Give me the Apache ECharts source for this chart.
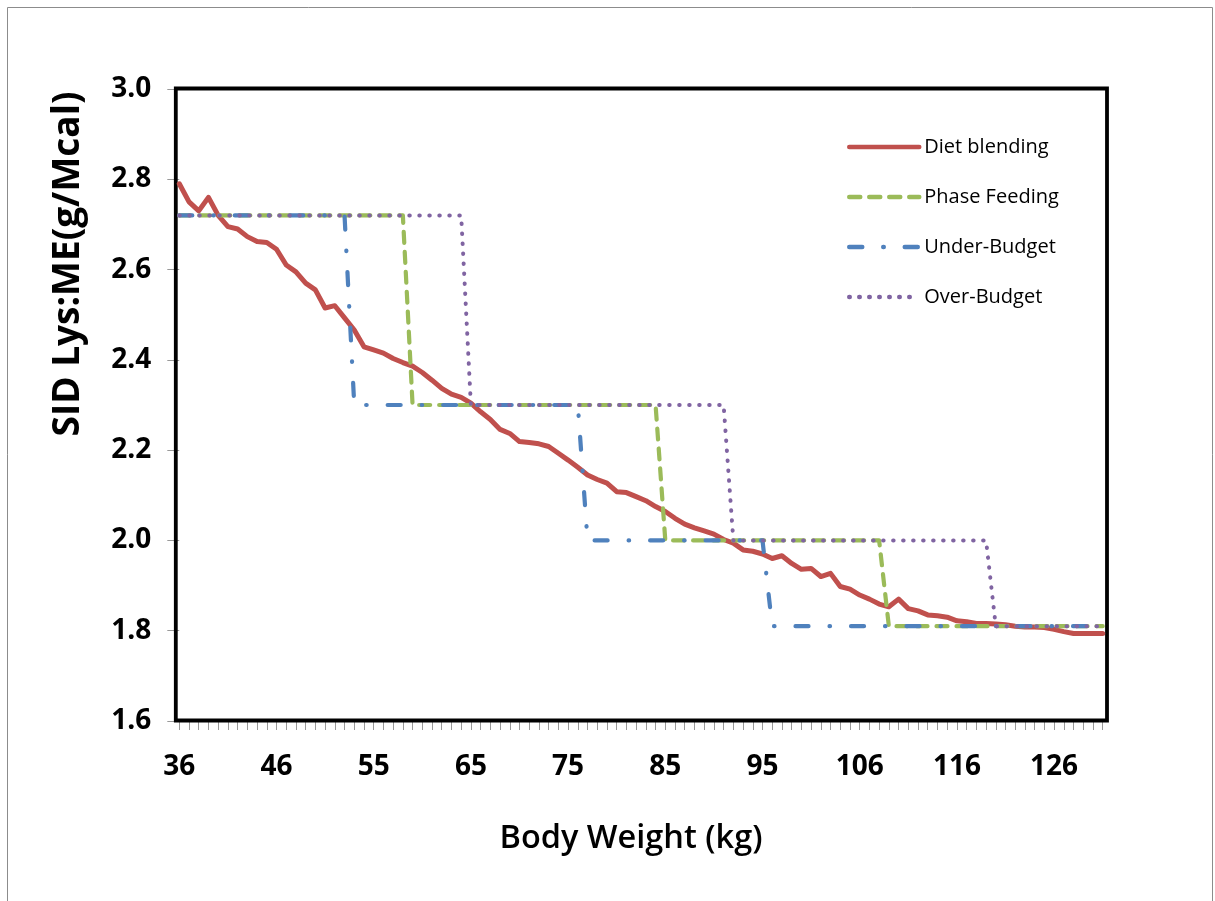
<!DOCTYPE html>
<html>
<head>
<meta charset="utf-8">
<script src="https://cdn.jsdelivr.net/npm/echarts@6/dist/echarts.min.js"></script>
<style>
html,body{margin:0;padding:0;background:#fff;}
#c{width:1215px;height:901px;}
</style>
</head>
<body>
<div id="c"></div>
<script>
// Body weight (kg) at each category; labels shown every 10th, rounded
const weights = [
  36.0,37.0,38.0,39.0,40.0,41.0,42.0,43.0,44.0,45.0,
  46.0,46.9,47.8,48.7,49.6,50.5,51.4,52.3,53.2,54.1,
  55.0,56.0,57.0,58.0,59.0,60.0,61.0,62.0,63.0,64.0,
  65.0,66.0,67.0,68.0,69.0,70.0,71.0,72.0,73.0,74.0,
  75.0,76.0,77.0,78.0,79.0,80.0,81.0,82.0,83.0,84.0,
  85.0,86.0,87.0,88.0,89.0,90.0,91.0,92.0,93.0,94.0,
  95.0,96.1,97.2,98.3,99.4,100.5,101.6,102.7,103.8,104.9,
  106.0,107.0,108.0,109.0,110.0,111.0,112.0,113.0,114.0,115.0,
  116.0,117.0,118.0,119.0,120.0,121.0,122.0,123.0,124.0,125.0,
  126.0,127.0,128.0,129.0,130.0,131.0
];

const dietBlending = [
  2.79,2.75,2.73,2.76,2.72,2.695,2.69,2.673,2.662,2.66,
  2.645,2.61,2.595,2.57,2.555,2.515,2.52,2.493,2.466,2.429,
  2.422,2.415,2.403,2.394,2.386,2.372,2.355,2.337,2.324,2.317,
  2.304,2.285,2.268,2.246,2.237,2.219,2.217,2.214,2.208,2.193,
  2.178,2.162,2.145,2.135,2.127,2.108,2.106,2.097,2.088,2.075,
  2.064,2.049,2.036,2.028,2.021,2.014,2.002,1.994,1.979,1.976,
  1.970,1.960,1.966,1.949,1.936,1.938,1.920,1.927,1.898,1.892,
  1.879,1.870,1.859,1.853,1.870,1.849,1.844,1.835,1.833,1.830,
  1.822,1.820,1.816,1.816,1.815,1.813,1.810,1.808,1.808,1.807,
  1.803,1.798,1.794,1.794,1.794,1.794
];

const phaseFeeding = [
  2.72,2.72,2.72,2.72,2.72,2.72,2.72,2.72,2.72,2.72,
  2.72,2.72,2.72,2.72,2.72,2.72,2.72,2.72,2.72,2.72,
  2.72,2.72,2.72,2.72,2.30,2.30,2.30,2.30,2.30,2.30,
  2.30,2.30,2.30,2.30,2.30,2.30,2.30,2.30,2.30,2.30,
  2.30,2.30,2.30,2.30,2.30,2.30,2.30,2.30,2.30,2.30,
  2.00,2.00,2.00,2.00,2.00,2.00,2.00,2.00,2.00,2.00,
  2.00,2.00,2.00,2.00,2.00,2.00,2.00,2.00,2.00,2.00,
  2.00,2.00,2.00,1.81,1.81,1.81,1.81,1.81,1.81,1.81,
  1.81,1.81,1.81,1.81,1.81,1.81,1.81,1.81,1.81,1.81,
  1.81,1.81,1.81,1.81,1.81,1.81
];

const underBudget = [
  2.72,2.72,2.72,2.72,2.72,2.72,2.72,2.72,2.72,2.72,
  2.72,2.72,2.72,2.72,2.72,2.72,2.72,2.72,2.30,2.30,
  2.30,2.30,2.30,2.30,2.30,2.30,2.30,2.30,2.30,2.30,
  2.30,2.30,2.30,2.30,2.30,2.30,2.30,2.30,2.30,2.30,
  2.30,2.30,2.00,2.00,2.00,2.00,2.00,2.00,2.00,2.00,
  2.00,2.00,2.00,2.00,2.00,2.00,2.00,2.00,2.00,2.00,
  2.00,1.81,1.81,1.81,1.81,1.81,1.81,1.81,1.81,1.81,
  1.81,1.81,1.81,1.81,1.81,1.81,1.81,1.81,1.81,1.81,
  1.81,1.81,1.81,1.81,1.81,1.81,1.81,1.81,1.81,1.81,
  1.81,1.81,1.81,1.81,1.81,1.81
];

const overBudget = [
  2.72,2.72,2.72,2.72,2.72,2.72,2.72,2.72,2.72,2.72,
  2.72,2.72,2.72,2.72,2.72,2.72,2.72,2.72,2.72,2.72,
  2.72,2.72,2.72,2.72,2.72,2.72,2.72,2.72,2.72,2.72,
  2.30,2.30,2.30,2.30,2.30,2.30,2.30,2.30,2.30,2.30,
  2.30,2.30,2.30,2.30,2.30,2.30,2.30,2.30,2.30,2.30,
  2.30,2.30,2.30,2.30,2.30,2.30,2.30,2.00,2.00,2.00,
  2.00,2.00,2.00,2.00,2.00,2.00,2.00,2.00,2.00,2.00,
  2.00,2.00,2.00,2.00,2.00,2.00,2.00,2.00,2.00,2.00,
  2.00,2.00,2.00,2.00,1.81,1.81,1.81,1.81,1.81,1.81,
  1.81,1.81,1.81,1.81,1.81,1.81
];

const seriesNames = ['Diet blending', 'Phase Feeding', 'Under-Budget', 'Over-Budget'];
const yTitle = 'SID Lys:ME(g/Mcal)';
const xTitle = 'Body Weight (kg)';

const FONT = '"Open Sans", "Liberation Sans", sans-serif';
const chart = echarts.init(document.getElementById('c'), null, {renderer: 'canvas'});

function line(name, data, color, width, type, z) {
  return {
    name: name, type: 'line', data: data,
    symbol: 'none', showSymbol: false, smooth: false, z: z,
    lineStyle: {color: color, width: width, type: type, cap: 'round', join: 'round'},
    itemStyle: {color: color},
    emphasis: {disabled: true},
    animation: false
  };
}

chart.setOption({
  backgroundColor: '#ffffff',
  animation: false,
  grid: {left: 179.3, right: 112.3, top: 89, bottom: 180, containLabel: false},
  legend: {
    data: seriesNames,
    orient: 'vertical',
    left: 842, top: 132,
    itemWidth: 70, itemHeight: 14, itemGap: 30,
    itemStyle: {opacity: 0},
    lineStyle: {width: 4.5},
    textStyle: {fontFamily: FONT, fontSize: 20, color: '#000', lineHeight: 20},
    selectedMode: false
  },
  xAxis: {
    type: 'category',
    data: weights.map(String),
    boundaryGap: false,
    axisLine: {show: false},
    axisTick: {show: true, interval: 0, length: 9, lineStyle: {color: '#999', width: 1}},
    axisLabel: {
      interval: 9, margin: 32,
      formatter: v => String(Math.round(parseFloat(v))),
      fontFamily: FONT, fontSize: 28, fontWeight: 'bold', color: '#000'
    },
    splitLine: {show: false}
  },
  yAxis: {
    type: 'value', min: 1.6, max: 3.0, interval: 0.2,
    axisLine: {show: false},
    axisTick: {show: true, length: 12, lineStyle: {color: '#999', width: 1}},
    axisLabel: {
      margin: 28,
      formatter: v => v.toFixed(1),
      fontFamily: FONT, fontSize: 28, fontWeight: 'bold', color: '#000'
    },
    splitLine: {show: false}
  },
  graphic: [
    {type: 'rect', shape: {x: 7.5, y: 7.5, width: 1205, height: 900},
     style: {fill: 'none', stroke: '#8c8c8c', lineWidth: 1}, z: -10, silent: true},
    {type: 'rect', shape: {x: 175.8, y: 88.5, width: 931.2, height: 632},
     style: {fill: 'none', stroke: '#000', lineWidth: 3.8}, z: 1, silent: true},
    {type: 'text', x: 68, y: 264, rotation: Math.PI / 2,
     style: {text: yTitle, fontFamily: FONT, fontSize: 37, fontWeight: 'bold', fill: '#000',
             textAlign: 'center', textVerticalAlign: 'middle'}, silent: true},
    {type: 'text', x: 631, y: 839,
     style: {text: xTitle, fontFamily: FONT, fontSize: 32.5, fontWeight: 600, fill: '#000',
             textAlign: 'center', textVerticalAlign: 'middle'}, silent: true}
  ],
  series: [
    line(seriesNames[0], dietBlending, '#C0504D', 5, 'solid', 3),
    line(seriesNames[1], phaseFeeding, '#9BBB59', 4.2, [11, 9], 4),
    line(seriesNames[2], underBudget, '#4F81BD', 4.2, [13, 21, 0.5, 21], 5),
    line(seriesNames[3], overBudget, '#8064A2', 4, [0.5, 9.5], 6)
  ]
});
</script>
</body>
</html>
